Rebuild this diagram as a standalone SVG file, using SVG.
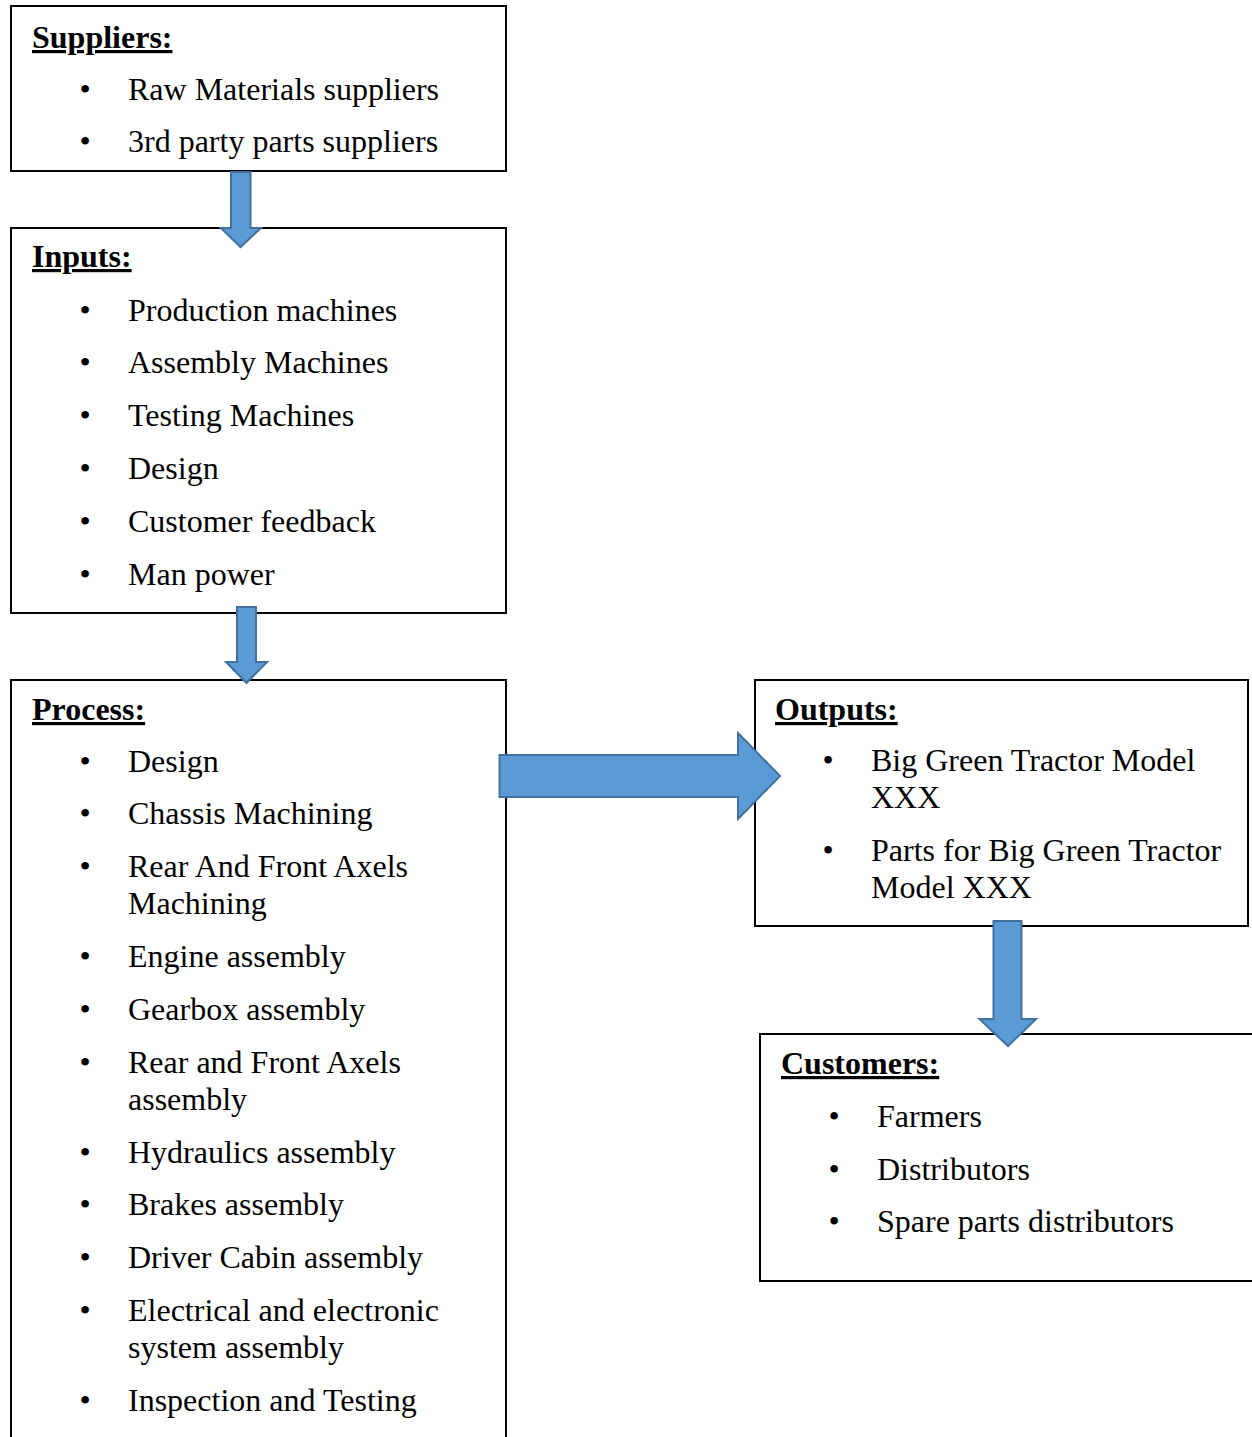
<svg xmlns="http://www.w3.org/2000/svg" width="1252" height="1437" viewBox="0 0 1252 1437">
  <style>
    .box { fill: #ffffff; stroke: #000000; stroke-width: 2; }
    .head { font-family: "Liberation Serif", "Times New Roman", serif; font-size: 32px; font-weight: bold; text-decoration: underline; fill: #000; }
    .item { font-family: "Liberation Serif", "Times New Roman", serif; font-size: 32px; fill: #000; }
    .dot { font-family: "Liberation Serif", "Times New Roman", serif; font-size: 32px; fill: #000; text-anchor: middle; }
    .arrow { fill: #5B9BD5; stroke: #41719C; stroke-width: 2; stroke-linejoin: miter; }
  </style>
  <rect width="1252" height="1437" fill="#ffffff"/>

  <g id="suppliers">
    <rect class="box" x="11" y="6" width="495" height="165"/>
    <text class="head" x="32" y="48">Suppliers:</text>
    <text class="dot" x="85" y="100">•</text><text class="item" x="128" y="100">Raw Materials suppliers</text>
    <text class="dot" x="85" y="152">•</text><text class="item" x="128" y="152">3rd party parts suppliers</text>
  </g>

  <g id="inputs">
    <rect class="box" x="11" y="228" width="495" height="385"/>
    <text class="head" x="32" y="267">Inputs:</text>
    <text class="dot" x="85" y="321">•</text><text class="item" x="128" y="321">Production machines</text>
    <text class="dot" x="85" y="373">•</text><text class="item" x="128" y="373">Assembly Machines</text>
    <text class="dot" x="85" y="426">•</text><text class="item" x="128" y="426">Testing Machines</text>
    <text class="dot" x="85" y="479">•</text><text class="item" x="128" y="479">Design</text>
    <text class="dot" x="85" y="532">•</text><text class="item" x="128" y="532">Customer feedback</text>
    <text class="dot" x="85" y="585">•</text><text class="item" x="128" y="585">Man power</text>
  </g>

  <g id="process">
    <rect class="box" x="11" y="680" width="495" height="780"/>
    <text class="head" x="32" y="720">Process:</text>
    <text class="dot" x="85" y="772">•</text><text class="item" x="128" y="772">Design</text>
    <text class="dot" x="85" y="824">•</text><text class="item" x="128" y="824">Chassis Machining</text>
    <text class="dot" x="85" y="877">•</text><text class="item" x="128" y="877">Rear And Front Axels</text>
    <text class="item" x="128" y="914">Machining</text>
    <text class="dot" x="85" y="967">•</text><text class="item" x="128" y="967">Engine assembly</text>
    <text class="dot" x="85" y="1020">•</text><text class="item" x="128" y="1020">Gearbox assembly</text>
    <text class="dot" x="85" y="1073">•</text><text class="item" x="128" y="1073">Rear and Front Axels</text>
    <text class="item" x="128" y="1110">assembly</text>
    <text class="dot" x="85" y="1163">•</text><text class="item" x="128" y="1163">Hydraulics assembly</text>
    <text class="dot" x="85" y="1215">•</text><text class="item" x="128" y="1215">Brakes assembly</text>
    <text class="dot" x="85" y="1268">•</text><text class="item" x="128" y="1268">Driver Cabin assembly</text>
    <text class="dot" x="85" y="1321">•</text><text class="item" x="128" y="1321">Electrical and electronic</text>
    <text class="item" x="128" y="1358">system assembly</text>
    <text class="dot" x="85" y="1411">•</text><text class="item" x="128" y="1411">Inspection and Testing</text>
  </g>

  <g id="outputs">
    <rect class="box" x="755" y="680" width="493" height="246"/>
    <text class="head" x="775" y="720">Outputs:</text>
    <text class="dot" x="828" y="771">•</text><text class="item" x="871" y="771">Big Green Tractor Model</text>
    <text class="item" x="871" y="808">XXX</text>
    <text class="dot" x="828" y="861">•</text><text class="item" x="871" y="861">Parts for Big Green Tractor</text>
    <text class="item" x="871" y="898">Model XXX</text>
  </g>

  <g id="customers">
    <rect class="box" x="760" y="1034" width="520" height="247"/>
    <text class="head" x="781" y="1074">Customers:</text>
    <text class="dot" x="834" y="1127">•</text><text class="item" x="877" y="1127">Farmers</text>
    <text class="dot" x="834" y="1180">•</text><text class="item" x="877" y="1180">Distributors</text>
    <text class="dot" x="834" y="1232">•</text><text class="item" x="877" y="1232">Spare parts distributors</text>
  </g>

  <g id="connectors">
    <!-- suppliers to inputs -->
    <polygon class="arrow" points="231,172 250.5,172 250.5,228 261,228 240.5,247 221,228 231,228"/>
    <!-- inputs to process -->
    <polygon class="arrow" points="237,607 256,607 256,662 267,662 246.5,683 226,662 237,662"/>
    <!-- process to outputs -->
    <polygon class="arrow" points="499.5,755 738,755 738,733 780,776 738,819 738,797 499.5,797"/>
    <!-- outputs to customers -->
    <polygon class="arrow" points="993.5,921 1021.5,921 1021.5,1019 1036,1019 1008,1046 979.5,1019 993.5,1019"/>
  </g>
</svg>
